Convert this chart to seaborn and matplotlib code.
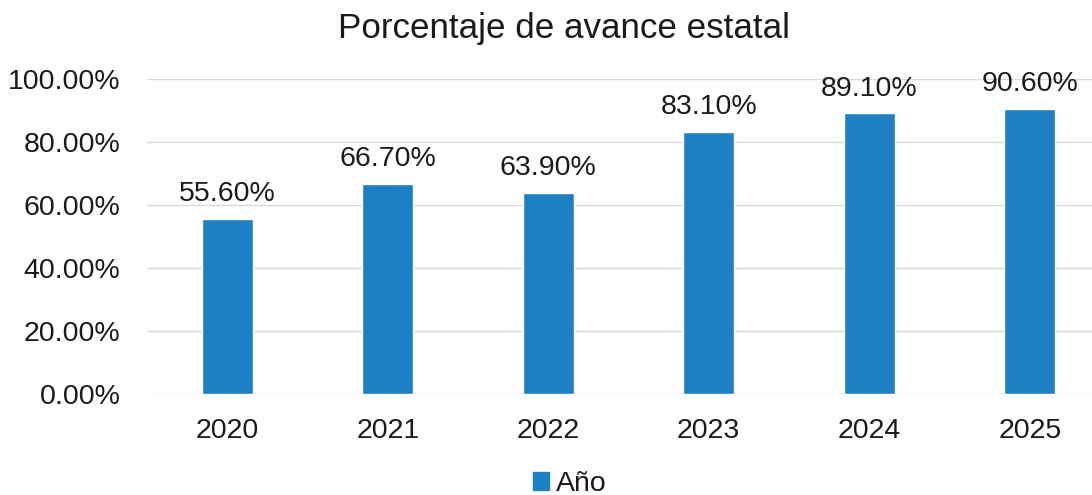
import matplotlib
matplotlib.use("Agg")
import matplotlib.pyplot as plt
import seaborn as sns
import pandas as pd
from matplotlib.ticker import FuncFormatter

years = ["2020", "2021", "2022", "2023", "2024", "2025"]
values = [55.6, 66.7, 63.9, 83.1, 89.1, 90.6]
series_name = "Año"
title = "Porcentaje de avance estatal"

sns.set_theme(style="white")
plt.rcParams['font.family'] = ['Liberation Sans', 'DejaVu Sans']

df = pd.DataFrame({"year": years, "value": values, "serie": series_name})

BLUE = "#1d80c4"
TXT = "#1a1a1a"

fig = plt.figure(figsize=(10.92, 4.95), dpi=100)
ax = fig.add_axes([147/1092, 1 - 394/495, 963/1092, 315/495])

sns.barplot(data=df, x="year", y="value", hue="serie", palette=[BLUE],
            width=0.32, ax=ax, saturation=1, legend=False)

ax.set_ylim(0, 100)
ax.set_yticks([0, 20, 40, 60, 80, 100])
ax.yaxis.set_major_formatter(FuncFormatter(lambda v, p: f"{v:.2f}%"))
ax.grid(axis="y", color="#d9d9d9", linewidth=1)
ax.set_axisbelow(True)
for s in ax.spines.values():
    s.set_visible(False)
ax.tick_params(axis="both", length=0, labelsize=20.5, labelcolor=TXT)
ax.tick_params(axis="y", pad=19)
ax.tick_params(axis="x", pad=17)
ax.set_xlabel("")
ax.set_ylabel("")

for container in ax.containers:
    ax.bar_label(container, labels=[f"{v:.2f}%" for v in values],
                 padding=8.5, fontsize=20.5, color=TXT, clip_on=False)

fig.text(564/1092, 1 - 38/495, title, ha="center", va="baseline",
         fontsize=25.2, color=TXT)

handle = plt.Rectangle((0, 0), 1, 1, color=BLUE)
fig.legend([handle], [series_name], loc="center", bbox_to_anchor=(570/1092, 1 - 484/495),
           frameon=False, fontsize=20.5, handlelength=0.55, handleheight=0.55,
           handletextpad=0.25, labelcolor=TXT, borderpad=0.1)

fig.savefig("out.png", dpi=100)
